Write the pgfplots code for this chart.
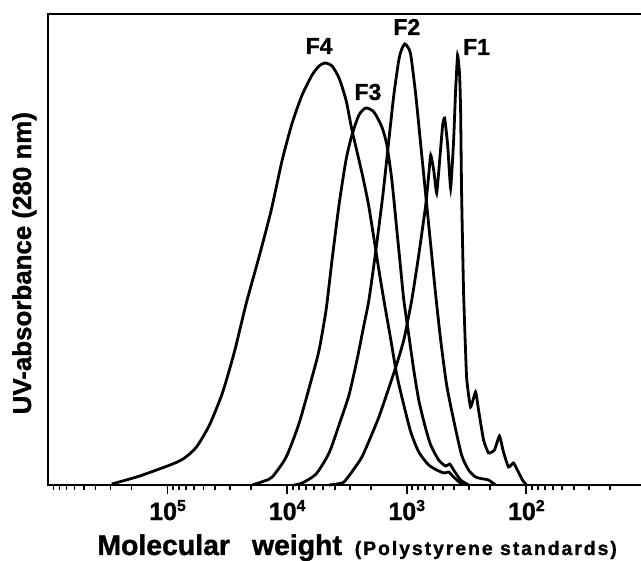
\documentclass[border=0pt]{standalone}
\usepackage{fontspec}
\setmainfont{Liberation Sans}[BoldFeatures={FakeBold=1.2}]
\usepackage{pgfplots}
\pgfplotsset{compat=1.18}
\newcommand{\tl}[1]{10\raisebox{9bp}{\fontsize{16}{16}\selectfont #1}}
\begin{document}
\begin{tikzpicture}
\begin{axis}[
  scale only axis, width=598bp, height=471bp,
  xmin=1, xmax=6, ymin=0, ymax=471,
  x dir=reverse,
  axis line style={line width=2.6bp},
  xtick={2,3,4,5},
  xticklabels={{\tl{2}},{\tl{3}},{\tl{4}},{\tl{5}}},
  minor xtick={1.30103,1.47712,1.60206,1.69897,1.77815,1.84510,1.90309,1.95424,
               2.30103,2.47712,2.60206,2.69897,2.77815,2.84510,2.90309,2.95424,
               3.30103,3.47712,3.60206,3.69897,3.77815,3.84510,3.90309,3.95424,
               4.30103,4.47712,4.60206,4.69897,4.77815,4.84510,4.90309,4.95424,
               5.30103,5.47712,5.60206,5.69897,5.77815,5.84510,5.90309,5.95424},
  xtick pos=bottom, ytick=\empty,
  tick align=outside,
  major tick length=9bp, minor tick length=5bp,
  tick style={black, line width=1.8bp},
  xticklabel style={font=\fontsize{25}{28}\selectfont\bfseries, anchor=base, yshift=-26bp},
  xlabel={\fontsize{28.5}{30}\selectfont\bfseries Molecular\hspace{0.5em} weight\hspace{0.45em}{\fontsize{19.5}{20}\selectfont\addfontfeature{LetterSpace=10}(Polystyrene standards)}},
  xlabel style={at={(axis description cs:0.517,-0.1486)}, anchor=base},
  ylabel={\fontsize{26}{28}\selectfont\bfseries UV-absorbance (280 nm)},
  ylabel style={at={(axis description cs:-0.0284,0.471)}, anchor=base},
  clip=false,
]
\addplot[black, line width=2.8bp, smooth, tension=0.4] coordinates {
(5.4667,1) (5.2333,9) (4.9583,21) (4.8583,27) (4.7583,38) (4.65,60) (4.5417,92)
(4.4417,133) (4.3417,182) (4.2333,229) (4.1333,275) (4.0417,325) (3.9583,362)
(3.875,390) (3.7917,410) (3.7333,419) (3.6833,422) (3.625,419) (3.5667,407)
(3.5083,385) (3.4583,355) (3.375,312) (3.3167,278) (3.2333,215) (3.1917,185)
(3.1333,145) (3.0833,110) (3.025,80) (2.9667,53) (2.9,33) (2.8167,20)
(2.7333,14) (2.6833,12) (2.65,13) (2.6083,8) (2.55,2) (2.4833,0)
};
\addplot[black, line width=2.8bp, smooth, tension=0.4] coordinates {
(4.2917,0) (4.1917,4) (4.125,8) (4.0083,28) (3.9,62) (3.7917,108) (3.7333,135)
(3.675,175) (3.625,225) (3.5667,280) (3.5083,325) (3.4583,350) (3.4,370)
(3.3417,377) (3.275,373) (3.2083,358) (3.1667,340) (3.125,305) (3.0833,255)
(3.05,215) (3.025,185) (2.9833,150) (2.9417,115) (2.9,85) (2.85,60) (2.8,40)
(2.7333,25) (2.675,19) (2.6417,21) (2.6083,15) (2.55,5) (2.4833,0)
};
\addplot[black, line width=2.8bp, smooth, tension=0.4] coordinates {
(3.9417,0) (3.875,2) (3.7583,11) (3.65,32) (3.5667,60) (3.4833,90) (3.4167,125)
(3.3583,160) (3.3167,185) (3.2583,235) (3.2,290) (3.15,345) (3.1083,390)
(3.0667,425) (3.0417,436) (3.0167,441) (2.9917,438) (2.9667,430) (2.925,390)
(2.8833,340) (2.8417,290) (2.8,240) (2.7583,190) (2.7167,145) (2.6667,100)
(2.6083,65) (2.5417,30) (2.4833,15) (2.425,8) (2.3583,6) (2.3167,5) (2.2583,0)
};
\addplot[black, line width=2.8bp, smooth, tension=0.25] coordinates {
(3.65,0) (3.525,3) (3.375,28) (3.2333,68) (3.0917,118) (3.025,145) (2.9583,185)
(2.9,230) (2.8417,280) (2.8167,310) (2.8,330) (2.775,315) (2.75,292) (2.725,325)
(2.7,360) (2.6833,367) (2.6583,340) (2.6333,297) (2.6083,345) (2.5917,395)
(2.575,430) (2.5583,410) (2.55,375) (2.5417,292) (2.525,192) (2.5,108)
(2.4667,78) (2.425,93) (2.4,75) (2.3583,45) (2.3167,32) (2.2667,35) (2.225,49)
(2.1917,33) (2.15,18) (2.1083,22) (2.075,15) (2.0333,5) (2.0,0)
};
\node[font=\fontsize{23}{25}\selectfont\bfseries] at (axis cs:3.7333,439) {F4};
\node[font=\fontsize{23}{25}\selectfont\bfseries] at (axis cs:3.325,393) {F3};
\node[font=\fontsize{23}{25}\selectfont\bfseries] at (axis cs:3.0,458) {F2};
\node[font=\fontsize{23}{25}\selectfont\bfseries] at (axis cs:2.4167,438) {F1};
\coordinate (LB) at (axis cs:6,0);
\coordinate (LT) at (axis cs:6,471);
\end{axis}
\pgfresetboundingbox
\path[use as bounding box] ([xshift=-48bp,yshift=-76bp]LB) rectangle ([xshift=593bp,yshift=14bp]LT);
\end{tikzpicture}
\end{document}
